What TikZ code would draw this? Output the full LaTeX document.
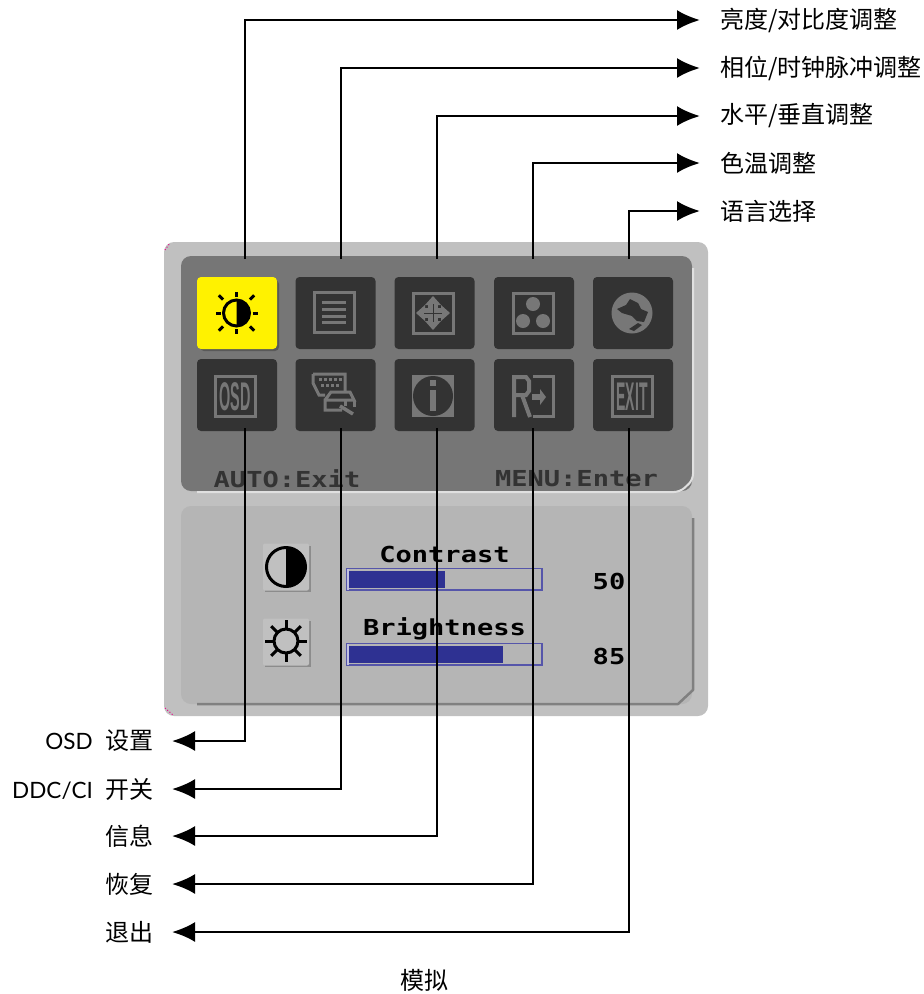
\documentclass[tikz,border=0pt]{standalone}
\usepackage{fontspec}
\setmainfont{Noto Sans CJK SC}
\newfontfamily\latinfont{Lato}
\newfontfamily\osdfont{DejaVu Sans Mono}
\newfontfamily\iconfont{Liberation Sans}
\usetikzlibrary{arrows.meta}
\definecolor{panelgrey}{HTML}{C0C0C0}
\definecolor{topgrey}{HTML}{767676}
\definecolor{lowgrey}{HTML}{B5B5B5}
\definecolor{icongrey}{HTML}{333333}
\definecolor{glyphgrey}{HTML}{777777}
\definecolor{barblue}{HTML}{2E3192}
\definecolor{barline}{HTML}{5555AA}
\tikzset{
  conn/.style={draw=black,line width=2.4pt,-{Latex[length=23pt,width=20pt]}},
  labelr/.style={anchor=west,inner xsep=20pt,inner ysep=0pt,font=\fontsize{24}{26}\selectfont},
  labell/.style={anchor=east,inner xsep=18pt,inner ysep=0pt,font=\fontsize{24}{26}\selectfont},
  iconbox/.style={fill=icongrey,draw=none,rounded corners=4pt,minimum width=80pt,minimum height=72pt,inner sep=0pt},
  btnbox/.style={fill=panelgrey,rounded corners=2pt,minimum width=46pt,minimum height=47pt,inner sep=0pt},
  frameg/.style={draw=glyphgrey,line width=3pt},
  glyphl/.style={draw=glyphgrey,line width=3pt},
  osdtext/.style={inner sep=0pt,font=\osdfont\bfseries\fontsize{22}{24}\selectfont,xscale=1.23,transform shape},
  icontext/.style={inner sep=0pt,text=glyphgrey,font=\iconfont\bfseries\fontsize{20}{22}\selectfont,transform shape}
}
\begin{document}
\begin{tikzpicture}[x=1pt,y=-1pt]
\useasboundingbox (0,0) rectangle (924,994);

\def\halfsun#1#2{
  \begin{scope}[shift={(#1,#2)}]
    \foreach \a in {0,90,180,270} {\draw[line width=3pt,black] (\a:16pt) -- (\a:21pt);}
    \foreach \a in {45,135,225,315} {\draw[line width=3pt,black] (\a:19pt) -- (\a:25pt);}
    \draw[line width=3pt,black] (0,0) circle (13pt);
    \fill[black] (0,-13) arc[start angle=90,end angle=-90,radius=13pt] -- cycle;
  \end{scope}
}
\def\glyphframe#1#2{
  \draw[frameg] (#1-20,#2-20) rectangle (#1+20,#2+20);
}

% Panels
\fill[panelgrey,rounded corners=10pt] (164,242) rectangle (708,716);
\fill[topgrey,rounded corners=10pt] (181,256) rectangle (692,491);
\draw[line width=2pt,white!88!black,rounded corners=6pt] (197,492) -- (680,492) -- (693,480) -- (693,268);
\fill[lowgrey,rounded corners=10pt] (181,506) rectangle (692,704);
\draw[line width=2.5pt,black!50,line join=round] (197,704) -- (678,704) -- (693,690) -- (693,518);
\draw[magenta,line width=1pt,dotted] (165,250) -- (170,243);
\draw[magenta,line width=1pt,dotted] (165,708) -- (173,715);

% Icons
\fill[black!65,rounded corners=4pt] (200,280) rectangle (279,351);
\node[iconbox,fill=yellow] (icsun) at (237,313) {};
\node[iconbox] (iclines) at (335.5,313) {};
\node[iconbox] (icmove) at (434.5,313) {};
\node[iconbox] (iccolor) at (534,313) {};
\node[iconbox] (icglobe) at (633,313) {};
\node[iconbox] (icosd) at (237,395) {};
\node[iconbox] (icddc) at (335.5,395) {};
\node[iconbox] (icinfo) at (434.5,395) {};
\node[iconbox] (icreset) at (534,395) {};
\node[iconbox] (icexit) at (633,395) {};

\halfsun{236.5}{313}

\glyphframe{334}{312.5}
\foreach \y in {302,309,316,322} {\draw[glyphl] (322,\y) -- (346,\y);}

\glyphframe{433}{313}
\fill[glyphgrey] (416,313) -- (425,305) -- (425,321) -- cycle;
\fill[glyphgrey] (450,313) -- (441,305) -- (441,321) -- cycle;
\fill[glyphgrey] (433,296) -- (425,305) -- (441,305) -- cycle;
\fill[glyphgrey] (433,330) -- (425,321) -- (441,321) -- cycle;
\fill[glyphgrey] (424,308) rectangle (442,318);
\fill[glyphgrey] (428,304) rectangle (438,322);
\draw[icongrey,line width=1pt] (424,313) -- (442,313) (433,304) -- (433,322);

\glyphframe{533}{313}
\foreach \x/\y in {533/304,523/321,543/321} {\fill[glyphgrey] (\x,\y) circle (7pt);}

\fill[glyphgrey] (632,313) circle (20.5pt);
\fill[icongrey] (617,309) -- (626,305) -- (630,299) -- (638,303) -- (641,309) -- (648,312) -- (644,322) -- (637,321) -- (632,316) -- (622,313) -- cycle;
\fill[icongrey] (629,329) -- (638,323) -- (642,325) -- (634,331) -- cycle;

\glyphframe{235}{396}
\node[icontext,xscale=0.72,yscale=2] (osdglyph) at (235,396.5) {OSD};

\draw[glyphl] (313,374) -- (345,374) -- (345,391) (313,374) -- (313,383) -- (319,395) -- (325,395);
\foreach \x in {319,324,...,339} {\fill[glyphgrey] (\x,378) rectangle +(2.5,2.5);}
\foreach \x in {321,326,...,336} {\fill[glyphgrey] (\x,384) rectangle +(2.5,2.5);}
\draw[glyphl] (325,400) -- (331,392) -- (350,392) -- (354,400) -- (345,400) -- (325,400) -- (325,410) -- (342,410);
\draw[glyphl] (345,400) -- (345,406) (354,400) -- (354,407);
\draw[glyphl,line width=3.5pt] (340,406) -- (353,414);

\fill[glyphgrey] (412,375) rectangle (454,417);
\fill[icongrey] (433,396) circle (20pt);
\fill[glyphgrey] (430,380) rectangle (436,386);
\fill[glyphgrey] (430,390) rectangle (436,411);

\draw[glyphl,line width=4pt] (514,417) -- (514,377) -- (526,377) -- (529,381) -- (529,391) -- (526,395) -- (515,395) (522,395) -- (530,417);
\draw[frameg] (533,376) -- (553,376) -- (553,416) -- (533,416);
\fill[glyphgrey] (532,394) rectangle (540,400);
\fill[glyphgrey] (540,389) -- (546,397) -- (540,405) -- cycle;

\glyphframe{632}{396}
\node[icontext,xscale=0.7,yscale=2] (exitglyph) at (632,396.5) {EXIT};

% Lower panel
\node[osdtext,text=icongrey] (autotxt) at (287,479) {AUTO:Exit};
\node[osdtext,text=icongrey] (menutxt) at (576.5,479) {MENU:Enter};
\node[osdtext,text=black] (contrasttxt) at (444.5,554) {Contrast};
\node[osdtext,text=black] (brighttxt) at (444.5,629) {Brightness};
\node[osdtext,text=black] (val50) at (609,581) {50};
\node[osdtext,text=black] (val85) at (609,656) {85};

\fill[black!45] (265,546) rectangle (311,592);
\node[btnbox] (btncontrast) at (286,567) {};
\fill[black!45] (265,621) rectangle (311,667);
\node[btnbox] (btnbright) at (286,642) {};

\draw[line width=3pt,black] (286,567) circle (19.5pt);
\fill[black] (286,547.5) arc[start angle=90,end angle=-90,radius=19.5pt] -- cycle;

\foreach \a in {0,45,...,315} {\draw[line width=3pt,black] (286,641) ++(\a:11pt) -- ++(\a:10pt);}
\draw[line width=3pt,black] (286,641) circle (12pt);

\draw[barline,line width=1.6pt] (346.5,568.5) rectangle (542,590);
\fill[white!70!barblue] (347,569) rectangle (349,590);
\fill[barblue] (349,571) rectangle (445,588);
\draw[barline,line width=1.6pt] (346.5,643.5) rectangle (542,665);
\fill[white!70!barblue] (347,644) rectangle (349,665);
\fill[barblue] (349,646) rectangle (503,663);

% Labels
\node[labelr] (lblbright) at (700,20) {亮度/对比度调整};
\node[labelr] (lblphase) at (700,68) {相位/时钟脉冲调整};
\node[labelr] (lblpos) at (700,116) {水平/垂直调整};
\node[labelr] (lbltemp) at (700,163) {色温调整};
\node[labelr] (lbllang) at (700,211) {语言选择};

\node[labell] (lblosd) at (172,741) {{\latinfont\fontsize{22.5}{24}\selectfont OSD}\hspace{13pt}设置};
\node[labell] (lblddc) at (172,789) {{\latinfont\fontsize{22.5}{24}\selectfont DDC/CI}\hspace{13pt}开关};
\node[labell] (lblinfo) at (172,836) {信息};
\node[labell] (lblreset) at (172,884) {恢复};
\node[labell] (lblexit) at (172,932) {退出};
\node[inner sep=0pt,font=\fontsize{24}{26}\selectfont] (lblanalog) at (424,980) {模拟};

% Connectors
\foreach \n/\x in {1/245,2/341,3/437,4/533,5/629} {
  \coordinate (up\n) at (\x,259);
  \coordinate (dn\n) at (\x,428);
}
\draw[conn] (up1) |- (lblbright.west);
\draw[conn] (up2) |- (lblphase.west);
\draw[conn] (up3) |- (lblpos.west);
\draw[conn] (up4) |- (lbltemp.west);
\draw[conn] (up5) |- (lbllang.west);
\draw[conn] (dn1) |- (lblosd.east);
\draw[conn] (dn2) |- (lblddc.east);
\draw[conn] (dn3) |- (lblinfo.east);
\draw[conn] (dn4) |- (lblreset.east);
\draw[conn] (dn5) |- (lblexit.east);

\end{tikzpicture}
\end{document}
